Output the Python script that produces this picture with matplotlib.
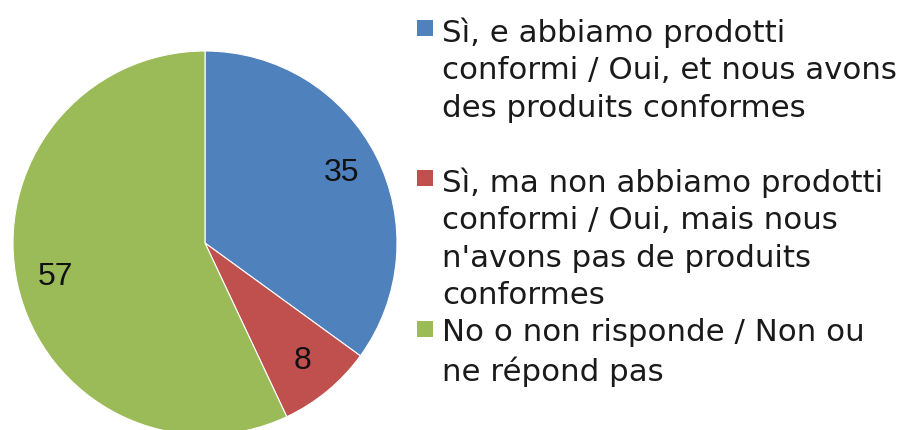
import matplotlib.pyplot as plt
from matplotlib.patches import Rectangle

# Data
labels = [
    'Sì, e abbiamo prodotti\nconformi / Oui, et nous avons\ndes produits conformes',
    'Sì, ma non abbiamo prodotti\nconformi / Oui, mais nous\nn\'avons pas de produits\nconformes',
    'No o non risponde / Non ou\nne répond pas',
]
values = [35, 8, 57]
colors = ['#4F81BD', '#C0504D', '#9BBB59']

W, H = 901, 430
fig = plt.figure(figsize=(W / 100, H / 100), dpi=100)

# Pie axes: centre (205, 243) px, radius 192 px
cx, cy, r = 205, 243, 192
ax = fig.add_axes([(cx - r) / W, (H - cy - r) / H, 2 * r / W, 2 * r / H])
wedges, texts, autotexts = ax.pie(
    values, colors=colors, startangle=90, counterclock=False,
    autopct=lambda p: f'{p * sum(values) / 100:.0f}', pctdistance=0.8,
    wedgeprops=dict(edgecolor='white', linewidth=0.8),
    textprops=dict(fontsize=23, family='Liberation Sans', color='#111111'),
)
ax.set_xlim(-1, 1)
ax.set_ylim(-1, 1)
ax.set_aspect('auto')
for w in wedges:
    w.set_clip_on(False)

# Legend drawn by hand (irregular spacing as in the original)
legend_y = [32, 182, 333]  # centre of first line, px from top
for lab, col, y in zip(labels, colors, legend_y):
    fig.patches.append(Rectangle((417 / W, (H - y - 4) / H), 16 / W, 16 / H,
                                 transform=fig.transFigure, facecolor=col,
                                 edgecolor='none'))
    fig.text(442 / W, (H - y + 15) / H, lab, ha='left', va='top',
             fontsize=22.2, family='DejaVu Sans', color='#1a1a1a',
             linespacing=1.37)

fig.savefig('out.png', dpi=100)
